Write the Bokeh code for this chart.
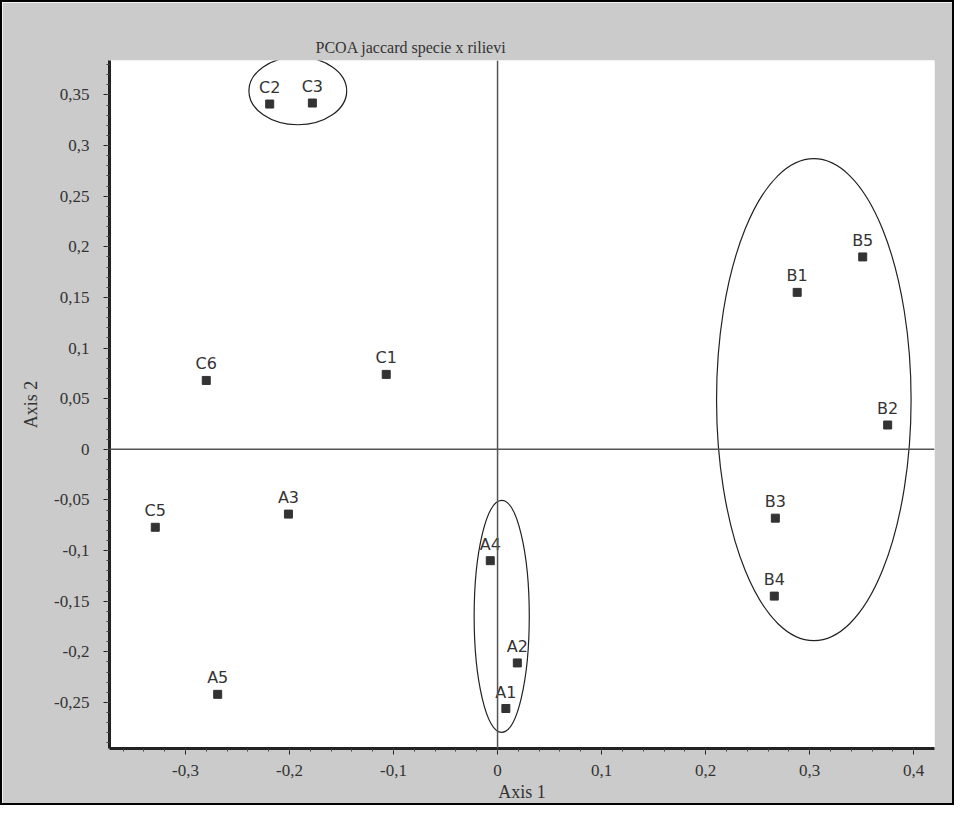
from bokeh.plotting import figure
from bokeh.models import Span, CustomJSTickFormatter, SingleIntervalTicker, ColumnDataSource
from bokeh.core.properties import value
from bokeh.embed import file_html
from bokeh.resources import INLINE

# data
labels = ["C2", "C3", "B5", "B1", "C6", "C1", "B2", "A3", "C5", "B3", "A4", "B4", "A2", "A5", "A1"]
axis1 = [-0.219, -0.178, 0.351, 0.288, -0.280, -0.107, 0.375, -0.201, -0.329, 0.267, -0.007, 0.266, 0.019, -0.269, 0.008]
axis2 = [0.341, 0.342, 0.190, 0.155, 0.068, 0.074, 0.024, -0.064, -0.077, -0.068, -0.110, -0.145, -0.211, -0.242, -0.256]

# group ellipses (C, B, A)
ell_x = [-0.192, 0.304, 0.004]
ell_y = [0.354, 0.049, -0.165]
ell_w = [0.094, 0.187, 0.053]
ell_h = [0.067, 0.476, 0.229]

GREY = "#cbcbcb"
INK = "#333333"

p = figure(width=954, height=805, output_backend="svg", toolbar_location=None,
           x_range=(-0.373, 0.420), y_range=(-0.2955, 0.384),
           min_border_left=107, min_border_right=22, min_border_top=58, min_border_bottom=59,
           background_fill_color="white", border_fill_color=GREY,
           title="PCOA jaccard specie x rilievi",
           styles={"border": "2px solid black"})
p.outline_line_color = None
p.grid.visible = False

p.title.text_font = "Liberation Serif"
p.title.text_font_style = "normal"
p.title.text_font_size = "16px"
p.title.text_color = INK
p.title.align = "left"
p.title.offset = 206

fmt = CustomJSTickFormatter(code="""
const v = Math.round(tick*100)/100;
return v.toString().replace('.', ',');
""")

p.xaxis.ticker = SingleIntervalTicker(interval=0.1, num_minor_ticks=5)
p.yaxis.ticker = SingleIntervalTicker(interval=0.05, num_minor_ticks=5)
for ax in (p.xaxis, p.yaxis):
    ax.formatter = fmt
    ax.major_label_text_font = "Liberation Serif"
    ax.major_label_text_font_size = "17px"
    ax.major_label_text_color = INK
    ax.axis_label_text_font = "Liberation Serif"
    ax.axis_label_text_font_size = "18px"
    ax.axis_label_text_font_style = "normal"
    ax.axis_label_text_color = INK
    ax.axis_line_width = 3
    ax.axis_line_color = "#222222"
    ax.major_tick_out = 6
    ax.major_tick_in = 0
    ax.minor_tick_out = 3
    ax.minor_tick_in = 0
    ax.major_tick_line_color = "#222222"
    ax.minor_tick_line_color = "#444444"
p.xaxis.axis_label = "Axis 1"
p.yaxis.axis_label = "Axis 2"
p.yaxis.major_label_orientation = "horizontal"
p.xaxis.major_label_standoff = 10
p.yaxis.major_label_standoff = 14
p.xaxis.axis_label_standoff = 3
p.yaxis.axis_label_standoff = 10

p.add_layout(Span(location=0, dimension="height", line_color="#555555", line_width=1.5))
p.add_layout(Span(location=0, dimension="width", line_color="#555555", line_width=1.5))

p.ellipse(x=ell_x, y=ell_y, width=ell_w, height=ell_h, fill_color=None,
          line_color="#222222", line_width=1.2)

src = ColumnDataSource(dict(x=axis1, y=axis2, label=labels))
p.scatter("x", "y", source=src, marker="square", size=8, fill_color=INK, line_color=INK)
p.text("x", "y", text="label", source=src, y_offset=-7, text_align="center",
       text_baseline="bottom", text_font=value("DejaVu Sans"), text_font_size="16px",
       text_color=INK)

open("out.html", "w").write(file_html(p, INLINE))
